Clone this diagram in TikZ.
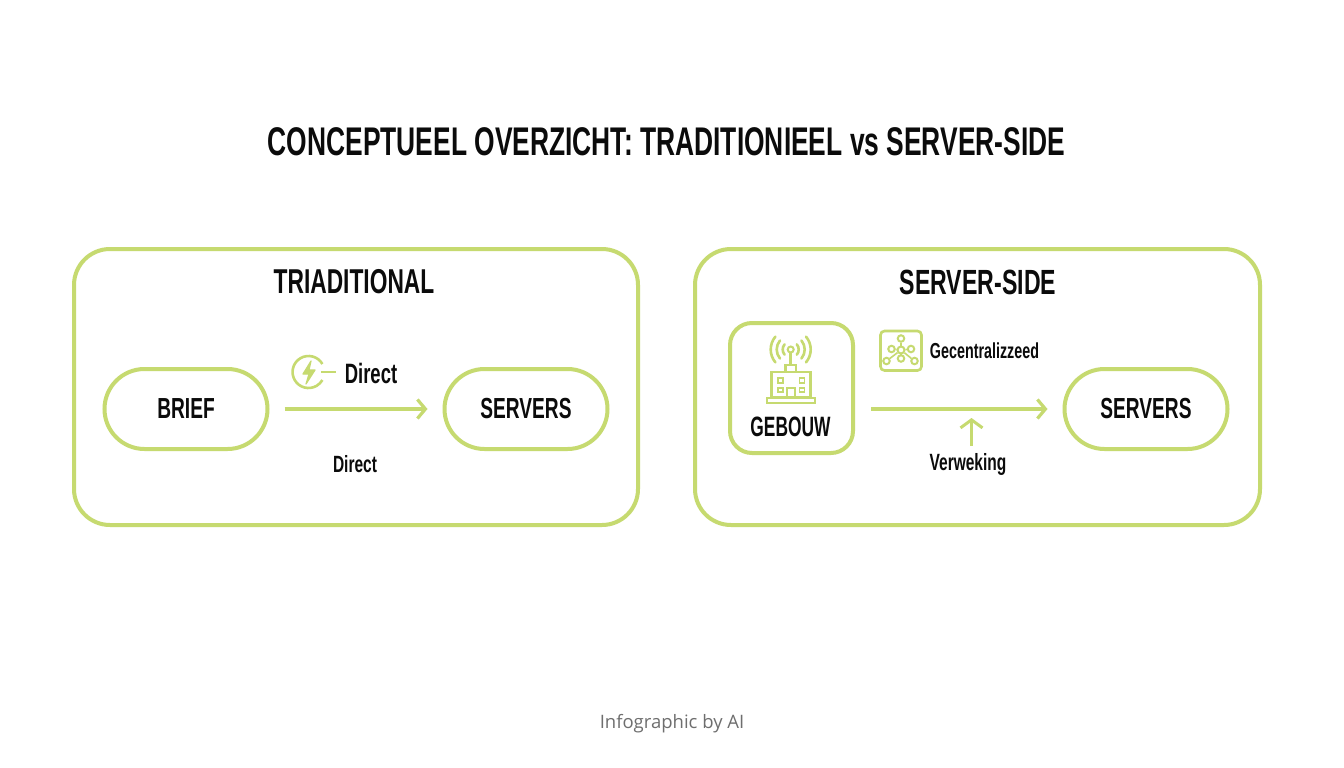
\documentclass[tikz,border=0pt]{standalone}
\usepackage{fontspec}
\setmainfont{Liberation Sans}
\newfontfamily\condfont[FakeStretch=0.66]{Liberation Sans Bold}
\newfontfamily\narrowfont[FakeStretch=0.62]{Liberation Sans Bold}
\newfontfamily\capfont{Open Sans}
\usetikzlibrary{arrows.meta}
\definecolor{lime}{HTML}{C6DA70}
\definecolor{inkc}{HTML}{0B0B0B}
\definecolor{capc}{HTML}{6E6E6E}
\tikzset{
  panel/.style={draw=lime,line width=4pt,rounded corners=36pt,minimum width=564pt,minimum height=276pt,inner sep=0pt},
  pill/.style={draw=lime,line width=4pt,rounded corners=40pt,minimum width=163pt,minimum height=80pt,inner sep=0pt,font=\condfont\fontsize{29}{29}\selectfont,text=inkc},
  squarebox/.style={draw=lime,line width=4pt,rounded corners=22pt,minimum width=123pt,minimum height=130pt,inner sep=0pt},
  lbl/.style={inner sep=0pt,text=inkc,font=\condfont\fontsize{#1}{#1}\selectfont},
  flow/.style={draw=lime,line width=3.2pt,-{Straight Barb[length=8pt,width=19pt,line width=3.2pt]}},
  ico/.style={draw=lime,line width=2.6pt,fill=none},
  dot/.style={circle,draw=lime,line width=2pt,minimum size=#1,inner sep=0pt}
}
\begin{document}
\begin{tikzpicture}[x=1pt,y=-1pt]
\useasboundingbox (0,0) rectangle (1344,768);
\fill[white] (0,0) rectangle (1344,768);
\node[lbl=40] (title) at (666.5,142) {CONCEPTUEEL OVERZICHT: TRADITIONIEEL vs SERVER-SIDE};
% panels
\node[panel] (leftp) at (356,387) {};
\node[panel,minimum width=565pt] (rightp) at (977.5,387) {};
\node[lbl=34.5] (lefth) at (354,282) {TRIADITIONAL};
\node[lbl=35] (righth) at (978,282) {SERVER-SIDE};
% left
\node[pill] (brief) at (186,409) {BRIEF};
\node[pill] (serv1) at (526,409) {SERVERS};
\draw[flow,shorten <=15pt,shorten >=15pt] (brief) -- (serv1);
\node[lbl=28] (direct1) at (371,373) {Direct};
\node[lbl=23.5] (direct2) at (355,464.5) {Direct};
% bolt icon
\draw[ico] (322.4,364) arc[start angle=30,end angle=330,radius=16pt];
\draw[ico] (321,372) -- (336,372);
\draw[draw=lime,fill=lime,line width=1.2pt,line join=round] (311,361) -- (303,374) -- (309,374) -- (306,384) -- (315,370) -- (309,370) -- cycle;
% right
\node[squarebox] (geb) at (791.5,388) {};
\node[inner sep=0pt,text=inkc,font=\narrowfont\fontsize{28}{28}\selectfont] (gebt) at (790.5,427) {GEBOUW};
\node[pill] (serv2) at (1146,409) {SERVERS};
\coordinate (flowstart) at (871,409);
\draw[flow,shorten >=15pt] (flowstart) -- (serv2);
\node[lbl=21.7] (centr) at (984.5,351) {Gecentralizzeed};
\node[lbl=23.5] (verw) at (968,464.5) {Verweking};
\coordinate (upb) at (971.5,446);
\coordinate (upt) at (971.5,418);
\draw[draw=lime,line width=3pt,-{Straight Barb[length=8pt,width=22pt,line width=3pt]}] (upb) -- (upt);
% building icon
\begin{scope}[ico]
\draw (771.5,372) rectangle (810.5,397);
\draw (785.5,365) rectangle (796,372);
\draw (767,398) rectangle (815,403);
\draw (787,397) -- (787,388) -- (795,388) -- (795,397);
\draw[line width=1.8pt] (778,378) rectangle (783,383);
\draw[line width=1.8pt] (799.5,378) rectangle (804.5,383);
\draw[line width=1.8pt] (778,388) rectangle (783,392);
\draw[line width=1.8pt] (799.5,388) rectangle (804.5,392);
\draw (790.7,353) -- (790.7,365);
\draw[line width=2pt] (790.7,349.5) circle[radius=3pt];
\foreach \r in {8,14,20}{
  \draw[line cap=round] ({790.7+\r*cos(40)},{349.5-\r*sin(40)}) arc[start angle=40,end angle=-40,radius=\r pt];
  \draw[line cap=round] ({790.7-\r*cos(40)},{349.5-\r*sin(40)}) arc[start angle=140,end angle=220,radius=\r pt];
}
\end{scope}
% network icon
\draw[ico,rounded corners=4pt] (880.5,331) rectangle (921.5,370.5);
\node[dot=7pt] (nc) at (901,350) {};
\node[dot=6.5pt] (nt) at (901,338.5) {};
\node[dot=6.5pt] (nl) at (891.5,349) {};
\node[dot=6.5pt] (nr) at (911,349) {};
\node[dot=6.5pt] (nbl) at (886.5,361) {};
\node[dot=6.5pt] (nb) at (901,358.5) {};
\node[dot=6.5pt] (nbr) at (914.5,361) {};
\foreach \n in {nt,nl,nr,nbl,nb,nbr}{\draw[draw=lime,line width=1.6pt] (nc) -- (\n);}
% footer
\node[inner sep=0pt,text=capc,font=\capfont\fontsize{18.5}{18.5}\selectfont] (foot) at (672,723.5) {Infographic by AI};
\end{tikzpicture}
\end{document}
